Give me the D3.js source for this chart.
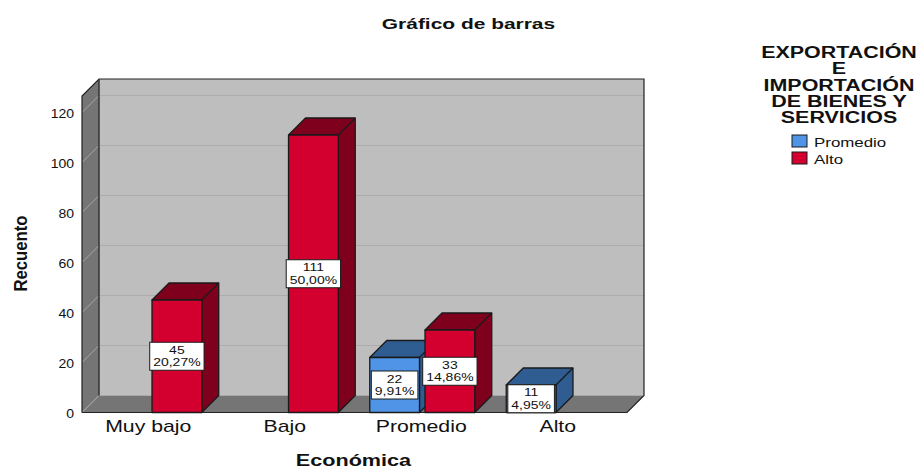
<!DOCTYPE html>
<html>
<head>
<meta charset="utf-8">
<script src="https://cdn.jsdelivr.net/npm/d3@7"></script>
<style>
  html, body { margin: 0; padding: 0; background: #fff; }
  text { font-family: "Liberation Sans", Arial, sans-serif; fill: #111; }
</style>
</head>
<body>
<div id="chart"></div>
<script>
// values
const categories = ["Muy bajo", "Bajo", "Promedio", "Alto"];
const seriesNames = ["Promedio", "Alto"];
const promedioValues = [null, null, 22, 11];
const altoValues = [45, 111, 33, null];
const promedioPct = [null, null, "9,91%", "4,95%"];
const altoPct = ["20,27%", "50,00%", "14,86%", null];
const yTicks = [0, 20, 40, 60, 80, 100, 120];
const legendTitle = ["EXPORTACIÓN", "E", "IMPORTACIÓN", "DE BIENES Y", "SERVICIOS"];

const width = 919, height = 468;
const depth = 17;
const plotLeft = 82, plotRight = 627, plotTop = 96, plotBottom = 412.5;

const colors = {
    Promedio: { front: "#4f94e6", dark: "#2f5c91" },
    Alto: { front: "#d3002f", dark: "#7f001d" }
};

const svg = d3.select("#chart").append("svg")
    .attr("width", width)
    .attr("height", height)
    .style("display", "block");

// x: one band per category, then one band per series inside it
const x = d3.scaleBand().domain(categories).range([80, 626]);
const xSeries = d3.scaleBand().domain(seriesNames).range([-51.5, 53.5]).paddingInner(0.1);
const y = d3.scaleLinear().domain([0, 120]).range([plotBottom, 112.5]);

// stretch text sideways, the reference image is scaled wider than tall
function stretch(sel, factor) {
    sel.each(function() {
        let len = this.getComputedTextLength();
        d3.select(this)
            .attr("textLength", len * factor)
            .attr("lengthAdjust", "spacingAndGlyphs");
    });
}

function pts(arr) { return arr.map(p => p.join(",")).join(" "); }

// walls and floor
let walls = svg.append("g");
walls.append("polygon")
    .attr("points", pts([[plotLeft + depth, plotTop - depth], [plotRight + depth, plotTop - depth], [plotRight + depth, plotBottom - depth], [plotLeft + depth, plotBottom - depth]]))
    .attr("fill", "#bebebe");
walls.append("polygon")
    .attr("points", pts([[plotLeft, plotTop], [plotLeft + depth, plotTop - depth], [plotLeft + depth, plotBottom - depth], [plotLeft, plotBottom]]))
    .attr("fill", "#757575");
walls.append("polygon")
    .attr("points", pts([[plotLeft, plotBottom], [plotLeft + depth, plotBottom - depth], [plotRight + depth, plotBottom - depth], [plotRight, plotBottom]]))
    .attr("fill", "#757575");

// gridlines, back wall and side wall
yTicks.filter(t => t > 0).forEach(function(t) {
    walls.append("line")
        .attr("x1", plotLeft + depth).attr("x2", plotRight + depth)
        .attr("y1", y(t) - depth).attr("y2", y(t) - depth)
        .attr("stroke", "#adadad").attr("stroke-width", 1);
});
yTicks.forEach(function(t) {
    walls.append("line")
        .attr("x1", plotLeft).attr("x2", plotLeft + depth)
        .attr("y1", y(t)).attr("y2", y(t) - depth)
        .attr("stroke", "#a8a8a8").attr("stroke-width", 1);
});

// wall outlines
walls.append("polyline")
    .attr("points", pts([[plotLeft, plotBottom], [plotLeft, plotTop], [plotLeft + depth, plotTop - depth], [plotRight + depth, plotTop - depth], [plotRight + depth, plotBottom - depth], [plotRight, plotBottom], [plotLeft, plotBottom]]))
    .attr("fill", "none").attr("stroke", "#222").attr("stroke-width", 1.2);
walls.append("line")
    .attr("x1", plotLeft + depth).attr("x2", plotLeft + depth)
    .attr("y1", plotTop - depth).attr("y2", plotBottom - depth)
    .attr("stroke", "#333").attr("stroke-width", 1.5);

// flat list of bars built from the arrays
let bars = [];
categories.forEach(function(c, i) {
    if (promedioValues[i] != null) bars.push({ cat: c, series: "Promedio", value: promedioValues[i], pct: promedioPct[i] });
    if (altoValues[i] != null) bars.push({ cat: c, series: "Alto", value: altoValues[i], pct: altoPct[i] });
});

function barLeft(d) { return x(d.cat) + x.bandwidth() / 2 + xSeries(d.series); }

let barG = svg.append("g").selectAll("g")
    .data(bars)
    .enter()
    .append("g")
    .attr("stroke", "#1a1a1a")
    .attr("stroke-width", 1.3)
    .attr("stroke-linejoin", "round");

barG.append("polygon")   // top + side
    .attr("fill", d => colors[d.series].dark)
    .attr("points", function(d) {
        let x0 = barLeft(d), x1 = x0 + xSeries.bandwidth();
        return pts([[x0, y(d.value)], [x0 + depth, y(d.value) - depth], [x1 + depth, y(d.value) - depth], [x1 + depth, plotBottom - depth], [x1, plotBottom], [x1, y(d.value)]]);
    });
barG.append("line")
    .attr("x1", d => barLeft(d) + xSeries.bandwidth())
    .attr("x2", d => barLeft(d) + xSeries.bandwidth() + depth)
    .attr("y1", d => y(d.value))
    .attr("y2", d => y(d.value) - depth);
barG.append("rect")
    .attr("x", d => barLeft(d))
    .attr("y", d => y(d.value))
    .attr("width", xSeries.bandwidth())
    .attr("height", d => plotBottom - y(d.value))
    .attr("fill", d => colors[d.series].front);

// value labels on top of every bar, two lines in one text
const labelStretch = 1.27;
let labelG = svg.append("g").selectAll("g")
    .data(bars)
    .enter()
    .append("g")
    .attr("transform", d => `translate(${barLeft(d) + xSeries.bandwidth() / 2},${(y(d.value) + plotBottom) / 2})`);

let labelBox = labelG.append("rect")
    .attr("fill", "#fff").attr("stroke", "#1a1a1a").attr("stroke-width", 1);
let labelText = labelG.append("text")
    .attr("text-anchor", "middle")
    .attr("font-size", 11)
    .attr("transform", `scale(${labelStretch},1)`);
labelText.append("tspan").attr("x", 0).attr("y", -2.5).text(d => d.value);
let pctSpan = labelText.append("tspan").attr("x", 0).attr("y", 10).text(d => d.pct);
labelBox.each(function(d, i) {
    let w = pctSpan.nodes()[i].getComputedTextLength() * labelStretch + 7;
    d3.select(this).attr("x", -w / 2).attr("y", -14).attr("width", w).attr("height", 28);
});

// axes
let yAxis = svg.append("g")
    .attr("transform", `translate(${plotLeft},0.5)`)
    .call(d3.axisLeft(y).tickValues(yTicks).tickSize(0).tickPadding(8));
yAxis.select(".domain").remove();
yAxis.selectAll("text")
    .attr("font-size", 12.5)
    .style("font-family", '"Liberation Sans", sans-serif')
    .attr("fill", "#111")
    .call(stretch, 1.12);

let xAxis = svg.append("g")
    .attr("transform", `translate(0,${plotBottom})`)
    .call(d3.axisBottom(x).tickSize(0).tickPadding(7));
xAxis.select(".domain").remove();
xAxis.selectAll("text")
    .attr("font-size", 17)
    .style("font-family", '"Liberation Sans", sans-serif')
    .attr("fill", "#222")
    .call(stretch, 1.25);

// titles
svg.append("text")
    .attr("x", 468.5).attr("y", 29).attr("text-anchor", "middle")
    .attr("font-size", 15.5).attr("font-weight", "bold")
    .text("Gráfico de barras").call(stretch, 1.35);
svg.append("text")
    .attr("x", 353.5).attr("y", 466).attr("text-anchor", "middle")
    .attr("font-size", 16).attr("font-weight", "bold")
    .text("Económica").call(stretch, 1.35);
svg.append("text")
    .attr("transform", "translate(27,253.5) rotate(-90)")
    .attr("text-anchor", "middle")
    .attr("font-size", 19).attr("font-weight", "bold")
    .text("Recuento").call(stretch, 0.88);

// legend
svg.append("g").selectAll("text")
    .data(legendTitle)
    .enter()
    .append("text")
    .attr("x", 839)
    .attr("y", (d, i) => 58 + i * 16.3)
    .attr("text-anchor", "middle")
    .attr("font-size", 16).attr("font-weight", "bold")
    .text(d => d)
    .call(stretch, 1.34);

let legendRow = svg.append("g").selectAll("g")
    .data(seriesNames)
    .enter()
    .append("g")
    .attr("transform", (d, i) => `translate(792,${135 + i * 17})`);
legendRow.append("rect")
    .attr("width", 15).attr("height", 12)
    .attr("fill", d => colors[d].front)
    .attr("stroke", "#1a1a1a").attr("stroke-width", 1);
legendRow.append("text")
    .attr("x", 22).attr("y", 12)
    .attr("font-size", 13.5).attr("fill", "#222")
    .text(d => d).call(stretch, 1.25);
</script>
</body>
</html>
